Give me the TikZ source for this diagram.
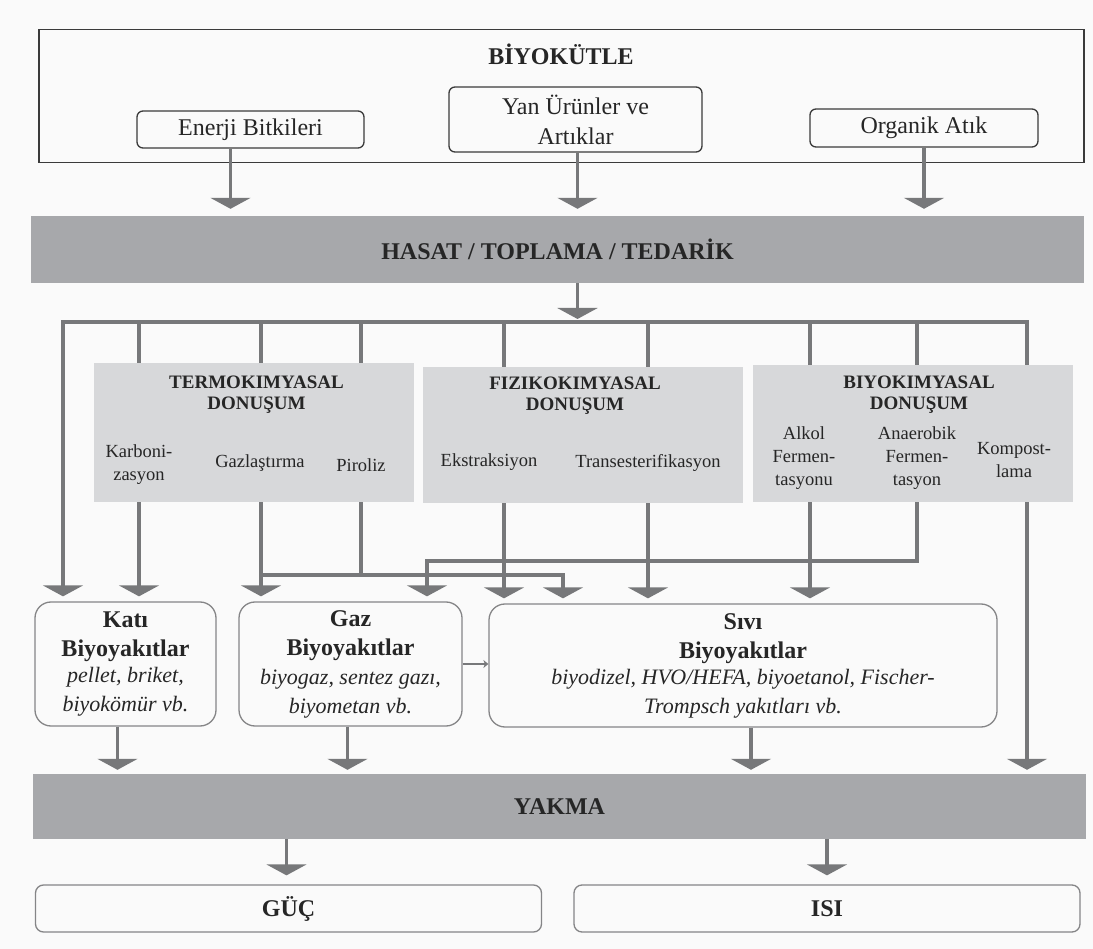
\documentclass[tikz,border=0pt]{standalone}
\usepackage{fontspec}
\setmainfont{Liberation Serif}
\usetikzlibrary{arrows.meta,positioning}

\definecolor{pipegray}{HTML}{77787A}
\definecolor{bargray}{HTML}{A7A8AB}
\definecolor{panelgray}{HTML}{D7D8DA}
\definecolor{framegray}{HTML}{3A3A3A}
\definecolor{edgegray}{HTML}{858587}
\definecolor{papergray}{HTML}{FAFAFA}

\newcommand{\bigfont}{\fontsize{24}{29}\selectfont}
\newcommand{\smallfont}{\fontsize{18.5}{23}\selectfont}
\newcommand{\fuelnote}{\fontsize{22}{29}\selectfont\itshape}

\tikzset{
    pipe/.style={draw=pipegray, line width=3.5pt},
    flow/.style={pipe, -{Triangle[width=40pt,length=11pt]}},
    srcbox/.style={draw=framegray, line width=1.3pt, rounded corners=6pt, fill=papergray,
        font=\bigfont, align=center, text=black!85},
    bar/.style={fill=bargray, minimum width=1053pt, font=\bigfont\bfseries, text=black!85},
    panel/.style={fill=panelgray, minimum width=320pt},
    paneltitle/.style={font=\fontsize{19}{21}\selectfont\bfseries, align=center, anchor=north, text=black!85},
    sublabel/.style={font=\smallfont, align=center, text=black!85},
    fuelbox/.style={draw=edgegray, line width=1.3pt, rounded corners=16pt, fill=papergray,
        align=center, minimum height=124pt, font=\bigfont, text=black!85},
    endbox/.style={draw=edgegray, line width=1.3pt, rounded corners=8pt, fill=papergray,
        minimum width=506pt, minimum height=47pt, font=\bigfont\bfseries, text=black!85}
}

\begin{document}
\begin{tikzpicture}[x=1pt, y=-1pt]
    \fill[papergray] (0,0) rectangle (1093,949);
    \useasboundingbox (0,0) rectangle (1093,949);

    % sources
    \node[draw=framegray, line width=1.5pt, minimum width=1045pt, minimum height=133pt] (biyokutle) at (561.5,96) {};
    \node[font=\bigfont\bfseries, text=black!85] (biyotitle) at (561,54) {BİYOKÜTLE};
    \node[srcbox, minimum width=227pt, minimum height=37pt] (enerji) at (250.5,129.5) {Enerji Bitkileri};
    \node[srcbox, minimum width=253pt, minimum height=65pt, font=\fontsize{24}{30}\selectfont] (yan) at (575.5,119.5) {Yan Ürünler ve\\Artıklar};
    \node[srcbox, minimum width=228pt, minimum height=38pt] (organik) at (924,128) {Organik Atık};

    \node[bar, minimum height=67pt] (hasat) at (557.5,249.5) {HASAT / TOPLAMA / TEDARİK};

    \draw[flow] ([xshift=-20pt]enerji.south) -- ([xshift=-20pt,yshift=7pt]enerji.south |- hasat.north);
    \draw[flow] ([xshift=2pt]yan.south) -- ([xshift=2pt,yshift=7pt]yan.south |- hasat.north);
    \draw[flow] (organik.south) -- ([yshift=7pt]organik.south |- hasat.north);

    % conversion panels
    \node[panel, minimum height=139pt] (termo) at (253.5,432.5) {};
    \node[panel, minimum height=136pt] (fiziko) at (583,435) {};
    \node[panel, minimum height=137pt] (biyo) at (913,433.5) {};

    \node[paneltitle] (termotitle) at ([xshift=3pt,yshift=-10pt]termo.north) {TERMOKIMYASAL\\DONUŞUM};
    \node[paneltitle] (fizikotitle) at ([xshift=-8pt,yshift=-7pt]fiziko.north) {FIZIKOKIMYASAL\\DONUŞUM};
    \node[paneltitle] (biyotitle2) at ([xshift=6pt,yshift=-8pt]biyo.north) {BIYOKIMYASAL\\DONUŞUM};

    \node[sublabel] (karboni) at (139,465) {Karboni-\\zasyon};
    \node[sublabel] (gazlas) at (260,463) {Gazlaştırma};
    \node[sublabel] (piroliz) at (361,465) {Piroliz};
    \node[sublabel] (ekstr) at (489,462) {Ekstraksiyon};
    \node[sublabel] (trans) at (648,463) {Transesterifikasyon};
    \node[sublabel] (alkol) at (804,458) {Alkol\\Fermen-\\tasyonu};
    \node[sublabel] (anaer) at (917,458) {Anaerobik\\Fermen-\\tasyon};
    \node[sublabel] (kompost) at (1014,460) {Kompost-\\lama};

    % biofuels
    \node[fuelbox, minimum width=181pt] (kati) at (125.5,664)
        {{\bfseries Katı}\\{\bfseries Biyoyakıtlar}\\[-3pt]{\fuelnote pellet, briket,}\\{\fuelnote biyokömür vb.}};
    \node[fuelbox, minimum width=223pt] (gaz) at (350.5,664)
        {{\bfseries Gaz}\\{\bfseries Biyoyakıtlar}\\{\fuelnote biyogaz, sentez gazı,}\\{\fuelnote biyometan vb.}};
    \node[fuelbox, minimum width=508pt, minimum height=123pt] (sivi) at (743,665.5)
        {{\bfseries Sıvı}\\{\bfseries Biyoyakıtlar}\\[-3pt]{\fuelnote biyodizel, HVO/HEFA, biyoetanol, Fischer-}\\{\fuelnote Trompsch yakıtları vb.}};

    \node[bar, minimum height=65pt] (yakma) at (559.5,806.5) {YAKMA};
    \node[endbox] (guc) at (288.5,908.5) {GÜÇ};
    \node[endbox] (isi) at (827,908.5) {ISI};

    % distribution
    \foreach \x [count=\i from 0] in {63,139,261,361,504,648,810,917,1027}
        \coordinate (tap\i) at (\x,322);
    \coordinate (join1) at (563,575);
    \coordinate (join2) at (427,561);

    \draw[flow] ([xshift=20pt]hasat.south) -- ([xshift=20pt,yshift=3pt]hasat.south |- tap0);
    \draw[flow] (tap8 |- biyo.north) -- (tap8) -- (tap0) -- ([yshift=5pt]tap0 |- kati.north);
    \foreach \i/\p in {1/termo,2/termo,3/termo,4/fiziko,5/fiziko,6/biyo,7/biyo}
        \draw[pipe] (tap\i) -- (tap\i |- \p.north);

    \draw[flow] (tap1 |- termo.south) -- ([yshift=5pt]tap1 |- kati.north);
    \draw[flow] (tap2 |- termo.south) -- ([yshift=5pt]tap2 |- gaz.north);
    \draw[pipe] (tap3 |- termo.south) -- (tap3 |- join1);
    \draw[flow] (tap2 |- join1) -| ([yshift=5pt]join1 |- sivi.north);
    \draw[flow] (tap7 |- biyo.south) |- (join2) -- ([yshift=5pt]join2 |- gaz.north);
    \foreach \i/\p in {4/fiziko,5/fiziko,6/biyo}
        \draw[flow] (tap\i |- \p.south) -- ([yshift=5pt]tap\i |- sivi.north);
    \draw[flow] (tap8 |- biyo.south) -- ([yshift=4pt]tap8 |- yakma.north);

    \draw[pipegray, line width=1.5pt, -{Stealth[length=5pt,width=8pt]}] (gaz.east) -- (gaz.east -| sivi.west);

    % to combustion
    \draw[flow] ([xshift=-8pt]kati.south) -- ([xshift=-8pt,yshift=4pt]kati.south |- yakma.north);
    \draw[flow] ([xshift=-3pt]gaz.south) -- ([xshift=-3pt,yshift=4pt]gaz.south |- yakma.north);
    \draw[flow] ([xshift=8pt]sivi.south) -- ([xshift=8pt,yshift=4pt]sivi.south |- yakma.north);

    \draw[flow] ([xshift=-2pt]yakma.south -| guc.north) -- ([xshift=-2pt,yshift=9pt]guc.north);
    \draw[flow] (yakma.south -| isi.north) -- ([yshift=9pt]isi.north);
\end{tikzpicture}
\end{document}
